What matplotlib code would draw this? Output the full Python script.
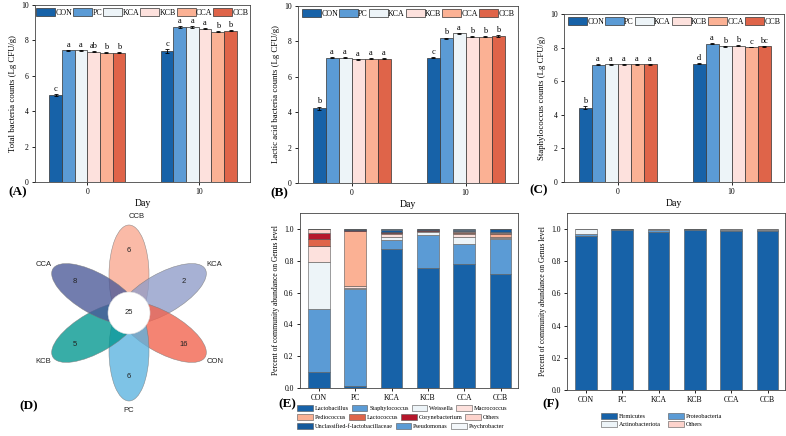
import numpy as np
import matplotlib.pyplot as plt
from matplotlib.patches import Ellipse, Circle

plt.rcParams['font.family'] = ['Liberation Serif', 'DejaVu Serif']

groups = ['CON', 'PC', 'KCA', 'KCB', 'CCA', 'CCB']
days = ['0', '10']
group_colors = ['#1762a8', '#5b9bd5', '#edf4f8', '#fde1dd', '#fbb194', '#df6449']

# (A) total bacteria
tb_day0 = [4.93, 7.43, 7.43, 7.37, 7.30, 7.30]
tb_day10 = [7.38, 8.75, 8.75, 8.66, 8.50, 8.54]
tb_err0 = [0.05, 0.03, 0.03, 0.03, 0.03, 0.03]
tb_err10 = [0.12, 0.04, 0.05, 0.04, 0.03, 0.03]
tb_let0 = ['c', 'a', 'a', 'ab', 'b', 'b']
tb_let10 = ['c', 'a', 'a', 'a', 'b', 'b']

# (B) lactic acid bacteria
lab_day0 = [4.22, 7.07, 7.07, 7.00, 7.02, 7.02]
lab_day10 = [7.08, 8.18, 8.45, 8.27, 8.27, 8.30]
lab_err0 = [0.10, 0.03, 0.03, 0.03, 0.02, 0.03]
lab_err10 = [0.04, 0.04, 0.03, 0.03, 0.04, 0.06]
lab_let0 = ['b', 'a', 'a', 'a', 'a', 'a']
lab_let10 = ['c', 'b', 'a', 'b', 'b', 'b']

# (C) staphylococcus
st_day0 = [4.43, 6.98, 7.01, 7.01, 7.01, 7.00]
st_day10 = [7.05, 8.23, 8.09, 8.12, 8.03, 8.08]
st_err0 = [0.10, 0.02, 0.02, 0.02, 0.02, 0.02]
st_err10 = [0.03, 0.03, 0.03, 0.03, 0.02, 0.02]
st_let0 = ['b', 'a', 'a', 'a', 'a', 'a']
st_let10 = ['d', 'a', 'b', 'b', 'c', 'bc']

# (D) flower venn
venn_names = ['CCB', 'KCA', 'CON', 'PC', 'KCB', 'CCA']
venn_unique = [6, 2, 16, 6, 5, 8]
venn_core = 25
venn_colors = ['#f9a78f', '#8f9cc8', '#f2624c', '#5ab3df', '#00968f', '#4a5897']

# (E) genus level
genus = ['Lactobacillus', 'Staphylococcus', 'Weissella', 'Macrococcus',
         'Pediococcus', 'Lactococcus', 'Corynebacterium', 'Others',
         'Unclassified-f-lactobacillaceae', 'Pseudomonas', 'Psychrobacter']
genus_colors = ['#1762a8', '#5b9bd5', '#edf4f8', '#fde1dd',
                '#fbb194', '#df6449', '#b5172b', '#fdd3cc',
                '#155a9c', '#5b9bd5', '#f3f7fa']
genus_vals = {
    'CON': [0.100, 0.395, 0.300, 0.100, 0.000, 0.040, 0.038, 0.027, 0.000, 0.000, 0.000],
    'PC':  [0.015, 0.605, 0.010, 0.012, 0.343, 0.003, 0.002, 0.004, 0.004, 0.001, 0.001],
    'KCA': [0.875, 0.055, 0.020, 0.020, 0.003, 0.003, 0.002, 0.004, 0.012, 0.003, 0.003],
    'KCB': [0.755, 0.205, 0.020, 0.004, 0.002, 0.002, 0.002, 0.004, 0.004, 0.001, 0.001],
    'CCA': [0.780, 0.125, 0.045, 0.020, 0.005, 0.003, 0.002, 0.004, 0.012, 0.002, 0.002],
    'CCB': [0.715, 0.220, 0.010, 0.005, 0.020, 0.005, 0.002, 0.003, 0.018, 0.001, 0.001],
}

# (F) phylum level
phylum = ['Firmicutes', 'Proteobacteria', 'Actinobacteriota', 'Others']
phylum_colors = ['#1762a8', '#5b9bd5', '#edf4f8', '#fdd3cc']
phylum_vals = {
    'CON': [0.958, 0.010, 0.030, 0.002],
    'PC':  [0.995, 0.003, 0.001, 0.001],
    'KCA': [0.985, 0.010, 0.003, 0.002],
    'KCB': [0.996, 0.002, 0.001, 0.001],
    'CCA': [0.988, 0.008, 0.002, 0.002],
    'CCB': [0.990, 0.007, 0.002, 0.001],
}

W, H = 786, 436
fig = plt.figure(figsize=(W / 100, H / 100), dpi=100)


def px_axes(l, t, r, b):
    return fig.add_axes([l / W, 1 - b / H, (r - l) / W, (b - t) / H])


def style(ax):
    for s in ax.spines.values():
        s.set_linewidth(0.6)
        s.set_color('#444444')
    ax.tick_params(labelsize=5.5, length=2.5, width=0.6, pad=2)


def bar_panel(ax, v0, v10, e0, e10, l0, l10, ylabel):
    x = np.arange(len(days))
    w = 0.114
    for i, g in enumerate(groups):
        pos = x + (i - 2.5) * w
        h = [v0[i], v10[i]]
        e = [e0[i], e10[i]]
        ax.bar(pos, h, w, yerr=e, color=group_colors[i], edgecolor='#333333',
               linewidth=0.5, label=g,
               error_kw=dict(elinewidth=0.6, capsize=1.2, capthick=0.6, ecolor='black'))
        for p, hh, ee, lt in zip(pos, h, e, [l0[i], l10[i]]):
            ax.text(p, hh + ee + 0.06, lt, ha='center', va='bottom', fontsize=6)
    ax.set_xticks(x, days)
    ax.set_xlim(-0.47, 1.46)
    ax.set_ylim(0, 10)
    ax.set_yticks(range(0, 11, 2))
    ax.set_xlabel('Day', fontsize=7, labelpad=2)
    ax.set_ylabel(ylabel, fontsize=6.3, labelpad=3)
    style(ax)
    ax.legend(ncol=6, loc='upper center', frameon=False, fontsize=5.7,
              handlelength=2.4, handleheight=1.2, handletextpad=0.05,
              columnspacing=0.1, borderaxespad=0.25, borderpad=0.1)


axA = px_axes(35, 5, 250, 182)
bar_panel(axA, tb_day0, tb_day10, tb_err0, tb_err10, tb_let0, tb_let10,
          'Total bacteria counts (Lg CFU/g)')
axB = px_axes(298, 6, 518, 183)
bar_panel(axB, lab_day0, lab_day10, lab_err0, lab_err10, lab_let0, lab_let10,
          'Lactic acid bacteria counts (Lg CFU/g)')
axC = px_axes(564, 14, 784, 182)
bar_panel(axC, st_day0, st_day10, st_err0, st_err10, st_let0, st_let10,
          'Staphylococcus counts (Lg CFU/g)')

# flower venn
axD = px_axes(0, 210, 262, 436)
axD.set_xlim(0, 262)
axD.set_ylim(0, 226)
axD.axis('off')
cx, cy = 129, 123
angles = [90, 30, -30, -90, 210, 150]
for name, n, col, a in zip(venn_names, venn_unique, venn_colors, angles):
    r = np.deg2rad(a)
    axD.add_patch(Ellipse((cx + 38 * np.cos(r), cy + 38 * np.sin(r)), 100, 40,
                          angle=a, facecolor=col, alpha=0.78,
                          edgecolor='#777777', linewidth=0.4))
    axD.text(cx + 63 * np.cos(r), cy + 63 * np.sin(r), str(n), fontsize=5.5,
             ha='center', va='center', family='Liberation Sans', color='#222222')
    axD.text(cx + 99 * np.cos(r) + (8 if a == 90 else 0), cy + 97 * np.sin(r), name,
             fontsize=5.5, ha='center', va='center', family='Liberation Sans',
             color='#222222')
axD.add_patch(Circle((cx, cy), 21, facecolor='white', edgecolor='#dddddd', linewidth=0.4))
axD.text(cx, cy, str(venn_core), fontsize=5.5, ha='center', va='center',
         family='Liberation Sans', color='#222222')


def stack_panel(ax, cats, colors, vals):
    x = np.arange(len(groups))
    bottom = np.zeros(len(groups))
    handles = []
    for j, c in enumerate(cats):
        h = np.array([vals[g][j] for g in groups])
        b = ax.bar(x, h, 0.6, bottom=bottom, color=colors[j], edgecolor='#555555',
                   linewidth=0.4, label=c)
        handles.append(b)
        bottom += h
    ax.set_xticks(x, groups)
    ax.set_xlim(-0.52, 5.48)
    ax.set_ylim(0, 1.1)
    ax.set_yticks(np.arange(0, 1.01, 0.2))
    ax.set_yticklabels(['%.1f' % v for v in np.arange(0, 1.01, 0.2)])
    ax.set_ylabel('Percent of community abundance on Genus level', fontsize=5.5, labelpad=3)
    style(ax)
    return handles


axE = px_axes(300, 213, 518, 388)
hE = stack_panel(axE, genus, genus_colors, genus_vals)
# legend of (E) flows row by row, one legend per row
rowsE = [[0, 1, 2, 3], [4, 5, 6, 7], [8, 9, 10]]
for k, row in enumerate(rowsE):
    fig.legend([hE[i] for i in row], [genus[i] for i in row], ncol=len(row),
               loc='upper left', bbox_to_anchor=(297 / W, 1 - (405 + 9 * k) / H),
               frameon=False, fontsize=4.5, handlelength=2.5, handleheight=1.1,
               handletextpad=0.3, columnspacing=0.5, borderaxespad=0, borderpad=0)

axF = px_axes(567, 213, 785, 390)
hF = stack_panel(axF, phylum, phylum_colors, phylum_vals)
orderF = [0, 2, 1, 3]
fig.legend([hF[i] for i in orderF], [phylum[i] for i in orderF], ncol=2,
           loc='upper left', bbox_to_anchor=(601 / W, 1 - 413 / H), frameon=False,
           fontsize=4.5, handlelength=2.5, handleheight=1.1, handletextpad=0.3,
           columnspacing=1.2, labelspacing=0.3, borderaxespad=0, borderpad=0)

# panel letters
for lab, px, py in [('(A)', 8, 192), ('(B)', 270, 193), ('(C)', 529, 190),
                    ('(D)', 19, 406), ('(E)', 278, 404), ('(F)', 542, 404)]:
    fig.text(px / W, 1 - py / H, lab, fontsize=9.5, fontweight='bold',
             ha='left', va='center')

fig.savefig('out.png', dpi=100)
